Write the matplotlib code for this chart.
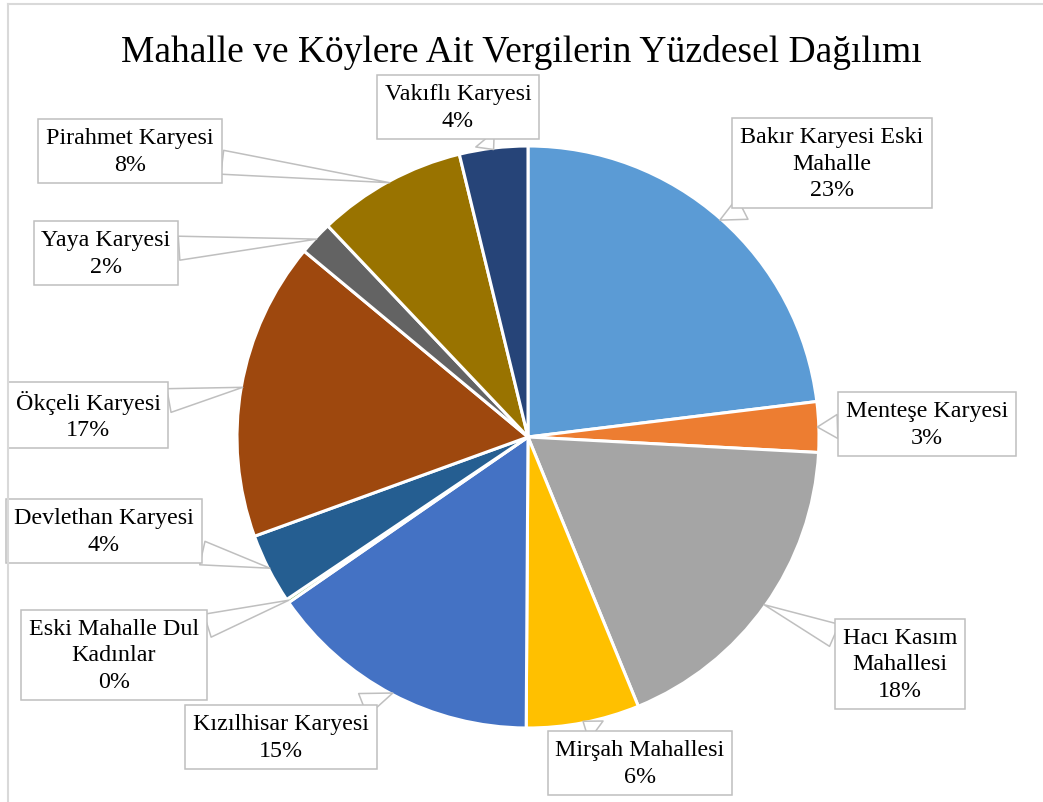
import numpy as np
import matplotlib
matplotlib.use("Agg")
import matplotlib.pyplot as plt

# Veriler (yuzde degerleri)
names = ["Bakır Karyesi Eski\nMahalle", "Menteşe Karyesi", "Hacı Kasım\nMahallesi",
         "Mirşah Mahallesi", "Kızılhisar Karyesi", "Eski Mahalle Dul\nKadınlar",
         "Devlethan Karyesi", "Ökçeli Karyesi", "Yaya Karyesi",
         "Pirahmet Karyesi", "Vakıflı Karyesi"]
values = [23.1, 2.8, 18.0, 6.3, 15.3, 0.2, 3.9, 16.6, 1.9, 8.3, 3.8]
colors = ["#5B9BD5", "#ED7D31", "#A5A5A5", "#FFC000", "#4472C4", "#70AD47",
          "#255E91", "#9E480E", "#636363", "#997300", "#264478"]
title = "Mahalle ve Köylere Ait Vergilerin Yüzdesel Dağılımı"

# Etiket kutularinin merkezleri (piksel)
label_pos = [(832, 164), (927, 425), (900, 665), (640, 764), (281, 738), (114, 656),
             (104, 532), (88, 416), (106, 254), (130, 152), (458, 108)]

W, H = 1043, 803
CX, CY, R = 528, 438, 291
SERIF = ["Liberation Serif", "DejaVu Serif"]


def px_to_data(px, py):
    return (px - CX) / R, (CY - py) / R


def main():
    fig = plt.figure(figsize=(W / 100, H / 100), dpi=100)
    ax = fig.add_axes([0, 0, 1, 1])

    wedges, _ = ax.pie(values, colors=colors, startangle=90, counterclock=False,
                       radius=1.0, wedgeprops=dict(edgecolor="white", linewidth=2.2))

    # pie() kendi limitlerini koyuyor, sonradan ayarla
    ax.set_xlim(-CX / R, (W - CX) / R)
    ax.set_ylim(-(H - CY) / R, CY / R)
    ax.set_aspect("equal")
    ax.axis("off")

    total = sum(values)
    for w, name, v, pos in zip(wedges, names, values, label_pos):
        mid = np.deg2rad((w.theta1 + w.theta2) / 2)
        tip = (np.cos(mid) * 0.995, np.sin(mid) * 0.995)
        txt = f"{name}\n{round(v / total * 100):.0f}%"
        ax.annotate(txt, xy=tip, xytext=px_to_data(*pos), ha="center", va="center",
                    fontsize=17.3, family=SERIF, linespacing=1.35, color="black",
                    bbox=dict(boxstyle="square,pad=0.33", fc="white", ec="#BFBFBF", lw=1.1),
                    arrowprops=dict(arrowstyle="wedge,tail_width=1.0,shrink_factor=0.5",
                                    fc="white", ec="#BFBFBF", lw=1.1,
                                    shrinkA=0, shrinkB=0),
                    zorder=5)

    fig.text(0.5, 1 - 52 / H, title, ha="center", va="center",
             fontsize=27, family=SERIF, color="black")

    # cerceve (sol ve ust kenar)
    fig.add_artist(plt.Line2D([8 / W, 8 / W], [0, 1 - 5 / H], transform=fig.transFigure,
                              color="#D9D9D9", lw=1.5))
    fig.add_artist(plt.Line2D([8 / W, 1], [1 - 5 / H, 1 - 5 / H], transform=fig.transFigure,
                              color="#D9D9D9", lw=1.5))

    fig.savefig("out.png", dpi=100, facecolor="white")


if __name__ == "__main__":
    main()
